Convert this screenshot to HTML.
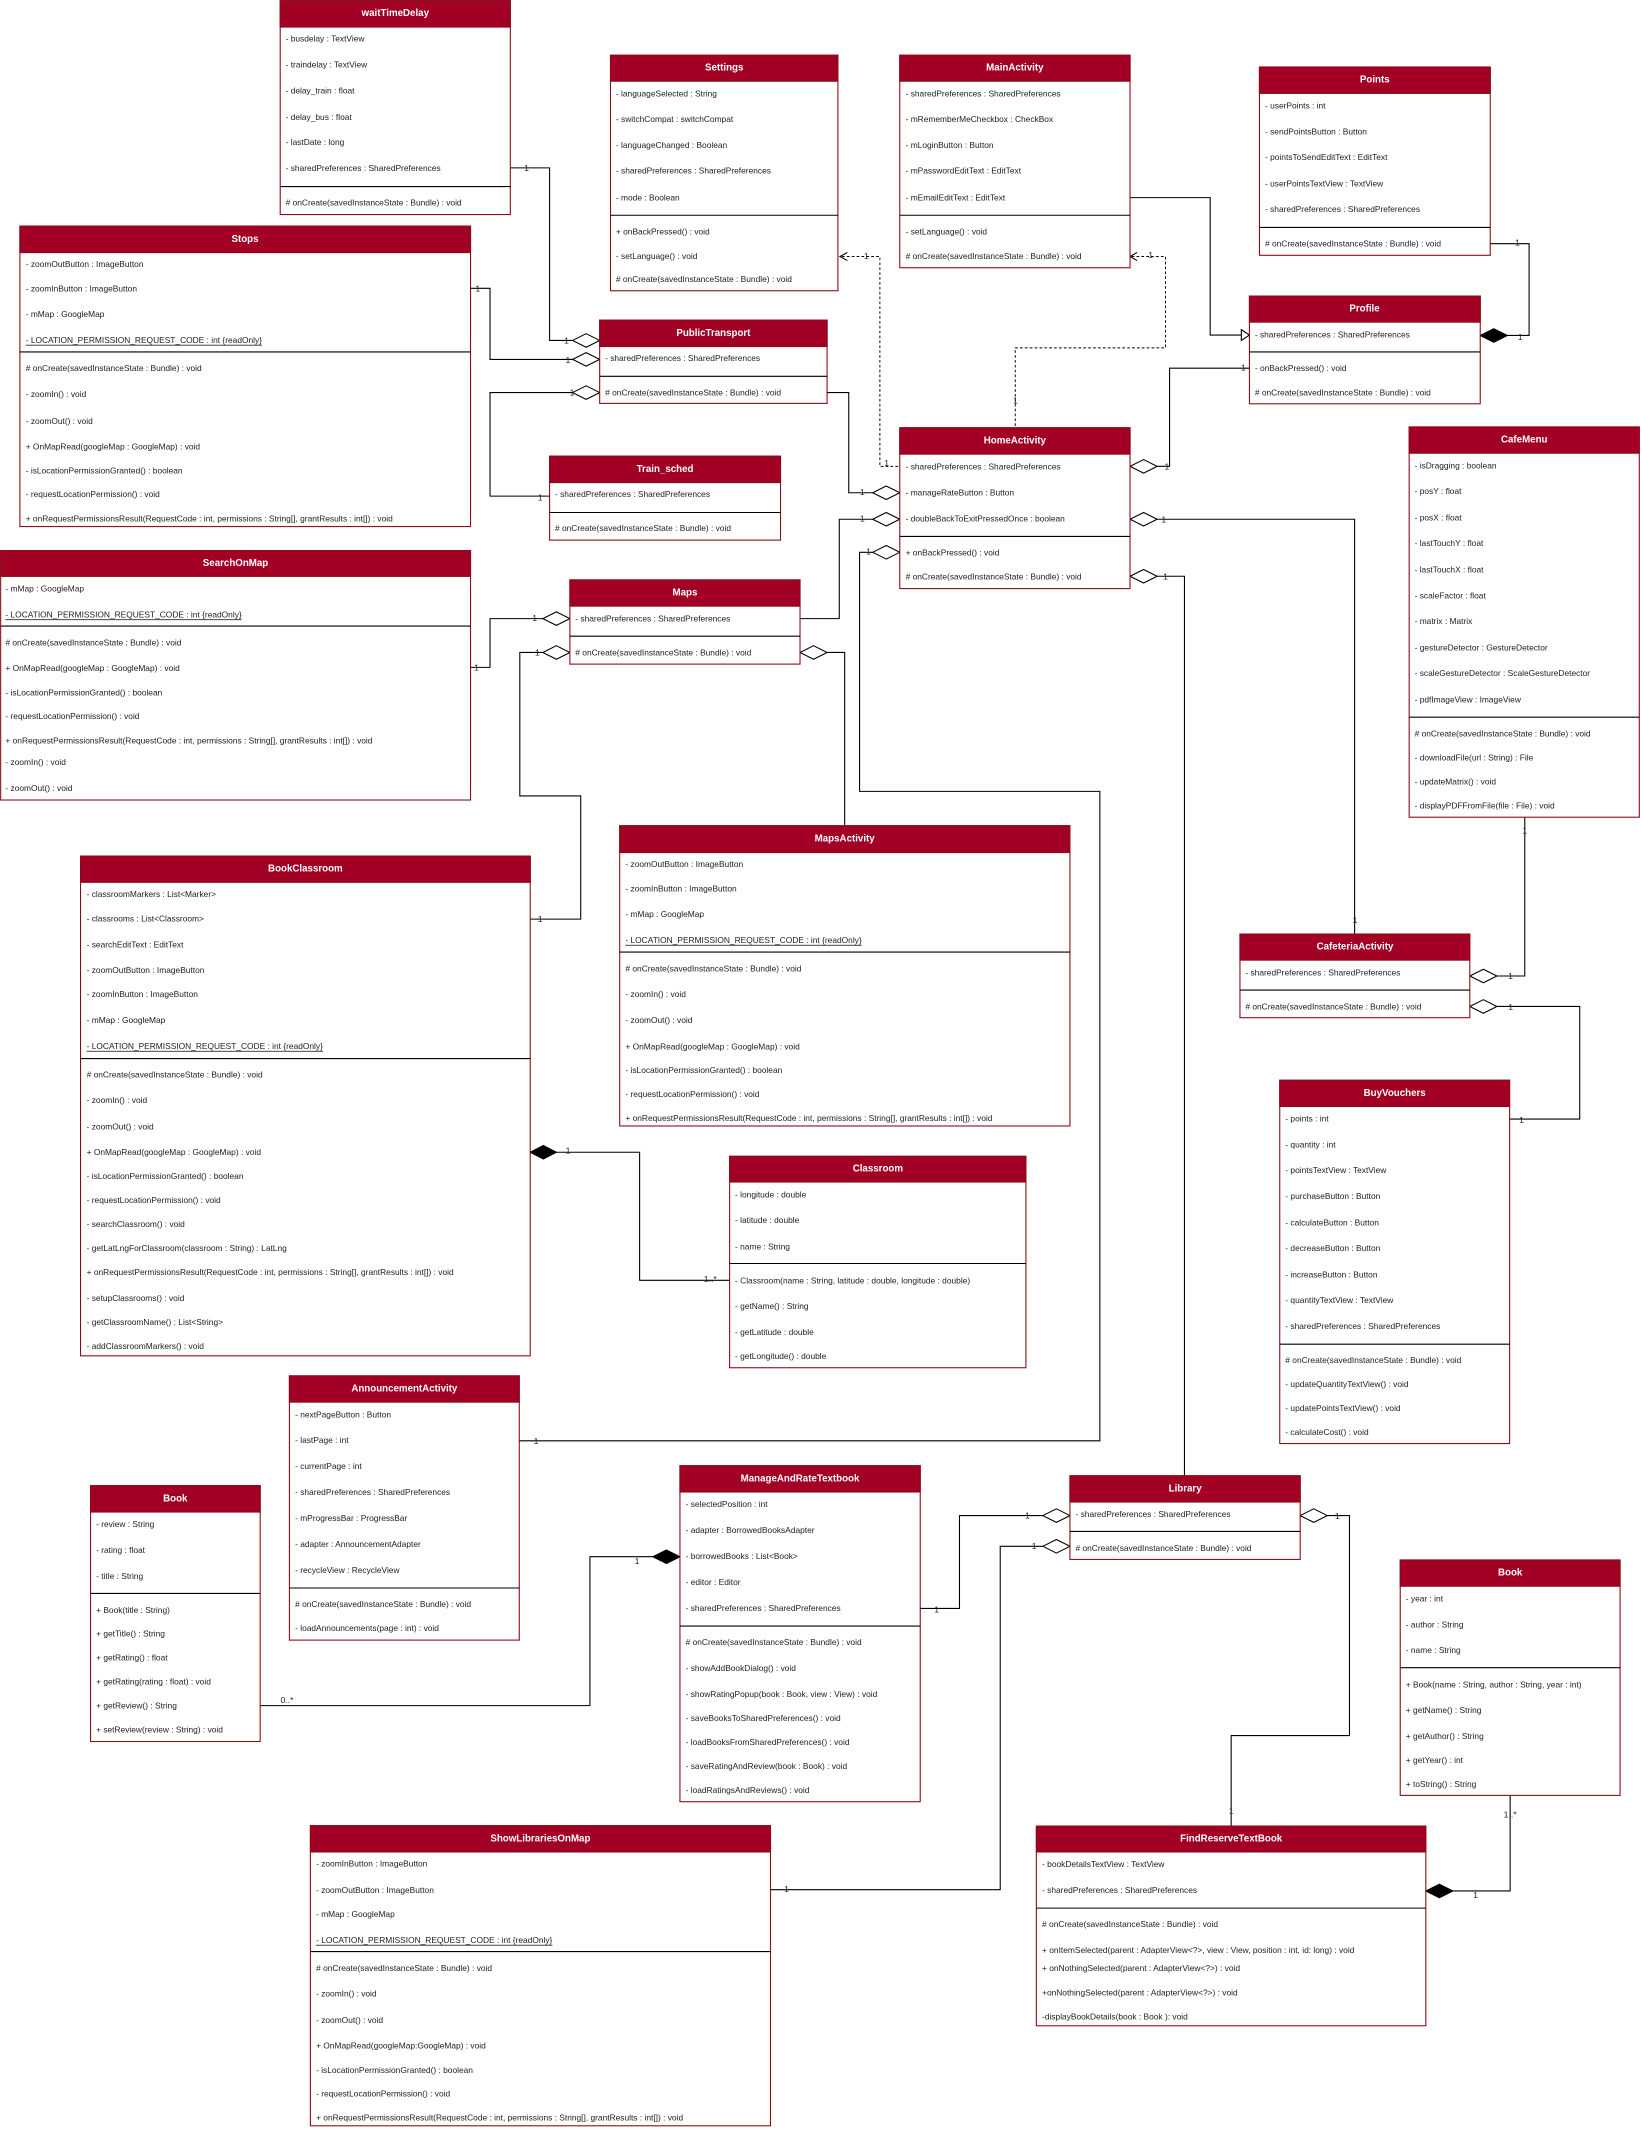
<!DOCTYPE html>
<html><head><meta charset="utf-8"><style>
html,body{margin:0;padding:0;background:#fff;}
svg{display:block}
.b{fill:#fff;stroke:#8a0a18;stroke-width:0.8}
.h{fill:#a20025;stroke:#8a0a18;stroke-width:0.8}
.d{stroke:#000;stroke-width:0.8}
.t{font-family:"Liberation Sans",sans-serif;font-weight:bold;font-size:7.2px;fill:#fff;text-anchor:middle;dominant-baseline:central}
.r{font-family:"Liberation Sans",sans-serif;font-size:6.2px;fill:#222;dominant-baseline:central}
.l{font-family:"Liberation Sans",sans-serif;font-size:6.4px;fill:#222;dominant-baseline:central;text-anchor:middle}
.c{fill:none;stroke:#000;stroke-width:0.8}
.k{fill:none;stroke:#000;stroke-width:0.7;stroke-dasharray:2,1.6}
.o{fill:#fff;stroke:#000;stroke-width:0.8}
.f{fill:#000;stroke:#000;stroke-width:0.8}
</style></head><body>
<svg width="1642" height="2130" viewBox="0 0 1213 1573.5" xmlns="http://www.w3.org/2000/svg">
<rect width="1213" height="1573.5" fill="#fff"/>

<!-- connectors -->
<polyline class="c" points="377,124 406,124 406,251.5 423,251.5"/>
<polyline class="c" points="347.6,213 362,213 362,265.5 423,265.5"/>
<polyline class="c" points="423,290 362,290 362,366.5 406,366.5"/>
<polyline class="c" points="347.6,493 362,493 362,457 401,457"/>
<polyline class="c" points="401,482 384,482 384,588 429,588 429,679 391.7,679"/>
<polyline class="c" points="611,482 624,482 624,610"/>
<polyline class="c" points="591,457 620,457 620,383.6 644.7,383.6"/>
<polyline class="c" points="611,290 627,290 627,364 644.7,364"/>
<polyline class="c" points="644.7,408 635,408 635,584.6 812.5,584.6 812.5,1064.4 383.6,1064.4"/>
<polyline class="c" points="834.8,146 894,146 894,247.5 917,247.5"/>
<polygon class="o" points="917,243.5 923,247.5 917,251.5"/>
<polyline class="k" points="622,189.5 650,189.5 650,344.5 664.7,344.5"/>
<polyline class="c" points="626,186.5 620.5,189.5 626,192.5"/>
<polyline class="k" points="836,189.5 861,189.5 861,257 750,257 750,316"/>
<polyline class="c" points="840,186.5 834.8,189.5 840,192.5"/>
<polyline class="c" points="855,344.5 864,344.5 864,272 923,272"/>
<polyline class="c" points="1100.9,180 1129.6,180 1129.6,247.8 1113,247.8"/>
<polyline class="c" points="855,383.6 1000.7,383.6 1000.7,690"/>
<polyline class="c" points="855,425.7 875,425.7 875,1090.2"/>
<polyline class="c" points="1126.4,603.7 1126.4,721 1105.8,721"/>
<polyline class="c" points="1105.8,743.5 1167,743.5 1167,826.7 1115.2,826.7"/>
<polyline class="c" points="411,851.2 472.5,851.2 472.5,945.8 539,945.8"/>
<polyline class="c" points="192.2,1260 435.8,1260 435.8,1150 482.3,1150"/>
<polyline class="c" points="569.2,1396 738.9,1396 738.9,1142.3 770.4,1142.3"/>
<polyline class="c" points="679.8,1188.2 708.8,1188.2 708.8,1119.6 770.4,1119.6"/>
<polyline class="c" points="980.5,1119.6 996.9,1119.6 996.9,1282.1 909.5,1282.1 909.5,1349"/>
<polyline class="c" points="1073.3,1396.9 1115.6,1396.9 1115.6,1326.3"/>

<!-- diamonds hollow -->
<polygon class="o" points="423,251.5 433,246.5 443,251.5 433,256.5"/>
<polygon class="o" points="423,265.5 433,260.5 443,265.5 433,270.5"/>
<polygon class="o" points="423,290 433,285 443,290 433,295"/>
<polygon class="o" points="401,457 411,452 421,457 411,462"/>
<polygon class="o" points="401,482 411,477 421,482 411,487"/>
<polygon class="o" points="591,482 601,477 611,482 601,487"/>
<polygon class="o" points="644.7,364 654.7,359 664.7,364 654.7,369"/>
<polygon class="o" points="644.7,383.6 654.7,378.6 664.7,383.6 654.7,388.6"/>
<polygon class="o" points="644.7,408 654.7,403 664.7,408 654.7,413"/>
<polygon class="o" points="834.8,344.5 844.8,339.5 854.8,344.5 844.8,349.5"/>
<polygon class="o" points="834.8,383.6 844.8,378.6 854.8,383.6 844.8,388.6"/>
<polygon class="o" points="834.8,425.7 844.8,420.7 854.8,425.7 844.8,430.7"/>
<polygon class="o" points="1085.8,721 1095.8,716 1105.8,721 1095.8,726"/>
<polygon class="o" points="1085.8,743.5 1095.8,738.5 1105.8,743.5 1095.8,748.5"/>
<polygon class="o" points="770.4,1119.6 780.4,1114.6 790.4,1119.6 780.4,1124.6"/>
<polygon class="o" points="770.4,1142.3 780.4,1137.3 790.4,1142.3 780.4,1147.3"/>
<polygon class="o" points="960.5,1119.6 970.5,1114.6 980.5,1119.6 970.5,1124.6"/>
<!-- filled -->
<polygon class="f" points="1093.5,247.8 1103.5,242.8 1113.5,247.8 1103.5,252.8"/>
<polygon class="f" points="391.7,851.2 401.4,846.2 411,851.2 401.4,856.2"/>
<polygon class="f" points="482.3,1150 492.3,1145 502.3,1150 492.3,1155"/>
<polygon class="f" points="1053.3,1396.9 1063.3,1391.9 1073.3,1396.9 1063.3,1401.9"/>

<!-- multiplicity labels -->
<g class="l">
<text x="389" y="124">1</text><text x="418.5" y="251.5">1</text>
<text x="353" y="213">1</text><text x="419.5" y="266">1</text>
<text x="422.6" y="290">1</text><text x="399" y="367.5">1</text>
<text x="352" y="493">1</text><text x="395" y="456.5">1</text>
<text x="397" y="482">1</text><text x="399" y="679">1</text>
<text x="637" y="383">1</text><text x="637" y="363.5">1</text>
<text x="641.6" y="407.5">1</text><text x="396" y="1064.4">1</text>
<text x="640" y="189">1</text><text x="655" y="342">1</text>
<text x="850" y="188.5">1</text><text x="750" y="295.7">1</text>
<text x="862" y="344.5">1</text><text x="918.5" y="271.5">1</text>
<text x="1121" y="179">1</text><text x="1123" y="249">1</text>
<text x="859.7" y="383.6">1</text><text x="1001" y="679.6">1</text>
<text x="861" y="425.7">1</text>
<text x="1126.4" y="613.7">1</text><text x="1115.9" y="721">1</text>
<text x="1116" y="744">1</text><text x="1124" y="827.5">1</text>
<text x="419.6" y="850">1</text><text x="524.7" y="945">1..*</text>
<text x="212" y="1256">0..*</text><text x="470.6" y="1153">1</text>
<text x="581" y="1395.5">1</text><text x="764" y="1142">1</text>
<text x="691.9" y="1189">1</text><text x="759" y="1119.6">1</text>
<text x="987.9" y="1120">1</text><text x="909.5" y="1337.7">1</text>
<text x="1090" y="1400">1</text><text x="1115.6" y="1340.3">1..*</text>
</g>

<!-- waitTimeDelay -->
<rect class="b" x="207" y="0.5" width="170" height="158"/><rect class="h" x="207" y="0.5" width="170" height="19.5"/>
<text class="t" x="292" y="10">waitTimeDelay</text><line class="d" x1="207" y1="137.8" x2="377" y2="137.8"/>
<g class="r"><text x="211" y="28.4">- busdelay : TextView</text><text x="211" y="47.8">- traindelay : TextView</text><text x="211" y="66.9">- delay_train : float</text><text x="211" y="86.3">- delay_bus : float</text><text x="211" y="105">- lastDate : long</text><text x="211" y="124">- sharedPreferences : SharedPreferences</text><text x="211" y="149.5"># onCreate(savedInstanceState : Bundle) : void</text></g>

<!-- Settings -->
<rect class="b" x="451" y="40.8" width="168" height="174"/><rect class="h" x="451" y="40.8" width="168" height="19.2"/>
<text class="t" x="535" y="50.4">Settings</text><line class="d" x1="451" y1="159" x2="619" y2="159"/>
<g class="r"><text x="455" y="69">- languageSelected : String</text><text x="455" y="88">- switchCompat : switchCompat</text><text x="455" y="107">- languageChanged : Boolean</text><text x="455" y="126">- sharedPreferences : SharedPreferences</text><text x="455" y="146">- mode : Boolean</text><text x="455" y="171">+ onBackPressed() : void</text><text x="455" y="189">- setLanguage() : void</text><text x="455" y="206"># onCreate(savedInstanceState : Bundle) : void</text></g>

<!-- MainActivity -->
<rect class="b" x="664.7" y="40.8" width="170.1" height="157"/><rect class="h" x="664.7" y="40.8" width="170.1" height="19.2"/>
<text class="t" x="749.7" y="50.4">MainActivity</text><line class="d" x1="664.7" y1="159" x2="834.8" y2="159"/>
<g class="r"><text x="669" y="69">- sharedPreferences : SharedPreferences</text><text x="669" y="88">- mRememberMeCheckbox : CheckBox</text><text x="669" y="107">- mLoginButton : Button</text><text x="669" y="126">- mPasswordEditText : EditText</text><text x="669" y="146">- mEmailEditText : EditText</text><text x="669" y="171">- setLanguage() : void</text><text x="669" y="189"># onCreate(savedInstanceState : Bundle) : void</text></g>

<!-- Points -->
<rect class="b" x="930.4" y="49.5" width="170.5" height="139.1"/><rect class="h" x="930.4" y="49.5" width="170.5" height="19.5"/>
<text class="t" x="1015.6" y="59.2">Points</text><line class="d" x1="930.4" y1="168" x2="1100.9" y2="168"/>
<g class="r"><text x="934.5" y="78">- userPoints : int</text><text x="934.5" y="97">- sendPointsButton : Button</text><text x="934.5" y="116">- pointsToSendEditText : EditText</text><text x="934.5" y="135.5">- userPointsTextView : TextView</text><text x="934.5" y="154.5">- sharedPreferences : SharedPreferences</text><text x="934.5" y="180"># onCreate(savedInstanceState : Bundle) : void</text></g>

<!-- Stops -->
<rect class="b" x="14.7" y="167" width="332.9" height="222"/><rect class="h" x="14.7" y="167" width="332.9" height="19.6"/>
<text class="t" x="181" y="176.8">Stops</text><line class="d" x1="14.7" y1="260" x2="347.6" y2="260"/>
<g class="r"><text x="19" y="195">- zoomOutButton : ImageButton</text><text x="19" y="213">- zoomInButton : ImageButton</text><text x="19" y="232">- mMap : GoogleMap</text><text x="19" y="251" text-decoration="underline">- LOCATION_PERMISSION_REQUEST_CODE : int {readOnly}</text><text x="19" y="272"># onCreate(savedInstanceState : Bundle) : void</text><text x="19" y="291">- zoomIn() : void</text><text x="19" y="311">- zoomOut() : void</text><text x="19" y="330">+ OnMapRead(googleMap : GoogleMap) : void</text><text x="19" y="347.5">- isLocationPermissionGranted() : boolean</text><text x="19" y="365">- requestLocationPermission() : void</text><text x="19" y="383">+ onRequestPermissionsResult(RequestCode : int, permissions : String[], grantResults : int[]) : void</text></g>

<!-- PublicTransport -->
<rect class="b" x="443" y="236.5" width="168" height="61.5"/><rect class="h" x="443" y="236.5" width="168" height="19.5"/>
<text class="t" x="527" y="246.2">PublicTransport</text><line class="d" x1="443" y1="278" x2="611" y2="278"/>
<g class="r"><text x="447" y="264.5">- sharedPreferences : SharedPreferences</text><text x="447" y="290"># onCreate(savedInstanceState : Bundle) : void</text></g>

<!-- Profile -->
<rect class="b" x="923" y="218.7" width="170.5" height="79.6"/><rect class="h" x="923" y="218.7" width="170.5" height="19.3"/>
<text class="t" x="1008" y="228.3">Profile</text><line class="d" x1="923" y1="260" x2="1093.5" y2="260"/>
<g class="r"><text x="927" y="247">- sharedPreferences : SharedPreferences</text><text x="927" y="272">- onBackPressed() : void</text><text x="927" y="290"># onCreate(savedInstanceState : Bundle) : void</text></g>

<!-- Train_sched -->
<rect class="b" x="406" y="337" width="170.6" height="62"/><rect class="h" x="406" y="337" width="170.6" height="19.5"/>
<text class="t" x="491.3" y="346.7">Train_sched</text><line class="d" x1="406" y1="378.6" x2="576.6" y2="378.6"/>
<g class="r"><text x="410" y="365">- sharedPreferences : SharedPreferences</text><text x="410" y="390"># onCreate(savedInstanceState : Bundle) : void</text></g>

<!-- HomeActivity -->
<rect class="b" x="664.7" y="316" width="170.1" height="118.8"/><rect class="h" x="664.7" y="316" width="170.1" height="19.5"/>
<text class="t" x="749.7" y="325.7">HomeActivity</text><line class="d" x1="664.7" y1="396.3" x2="834.8" y2="396.3"/>
<g class="r"><text x="669" y="344.5">- sharedPreferences : SharedPreferences</text><text x="669" y="364">- manageRateButton : Button</text><text x="669" y="383">- doubleBackToExitPressedOnce : boolean</text><text x="669" y="408">+ onBackPressed() : void</text><text x="669" y="425.7"># onCreate(savedInstanceState : Bundle) : void</text></g>

<!-- CafeMenu -->
<rect class="b" x="1041" y="315.4" width="170" height="288.3"/><rect class="h" x="1041" y="315.4" width="170" height="19.4"/>
<text class="t" x="1126" y="325.1">CafeMenu</text><line class="d" x1="1041" y1="529.8" x2="1211" y2="529.8"/>
<g class="r"><text x="1045" y="343.8">- isDragging : boolean</text><text x="1045" y="362.9">- posY : float</text><text x="1045" y="382.3">- posX : float</text><text x="1045" y="401.3">- lastTouchY : float</text><text x="1045" y="420.7">- lastTouchX : float</text><text x="1045" y="439.8">- scaleFactor : float</text><text x="1045" y="458.9">- matrix : Matrix</text><text x="1045" y="478.3">- gestureDetector : GestureDetector</text><text x="1045" y="497.3">- scaleGestureDetector : ScaleGestureDetector</text><text x="1045" y="516.7">- pdfImageView : ImageView</text><text x="1045" y="541.8"># onCreate(savedInstanceState : Bundle) : void</text><text x="1045" y="559.5">- downloadFile(url : String) : File</text><text x="1045" y="577.2">- updateMatrix() : void</text><text x="1045" y="595">- displayPDFFromFile(file : File) : void</text></g>

<!-- SearchOnMap -->
<rect class="b" x="0.5" y="406.7" width="347.1" height="184.3"/><rect class="h" x="0.5" y="406.7" width="347.1" height="19.1"/>
<text class="t" x="174" y="416.2">SearchOnMap</text><line class="d" x1="0.5" y1="462.5" x2="347.6" y2="462.5"/>
<g class="r"><text x="4" y="434.8">- mMap : GoogleMap</text><text x="4" y="453.8" text-decoration="underline">- LOCATION_PERMISSION_REQUEST_CODE : int {readOnly}</text><text x="4" y="474.6"># onCreate(savedInstanceState : Bundle) : void</text><text x="4" y="493.6">+ OnMapRead(googleMap : GoogleMap) : void</text><text x="4" y="511.4">- isLocationPermissionGranted() : boolean</text><text x="4" y="529">- requestLocationPermission() : void</text><text x="4" y="547">+ onRequestPermissionsResult(RequestCode : int, permissions : String[], grantResults : int[]) : void</text><text x="4" y="563">- zoomIn() : void</text><text x="4" y="582">- zoomOut() : void</text></g>

<!-- Maps -->
<rect class="b" x="421" y="428.4" width="170" height="62.2"/><rect class="h" x="421" y="428.4" width="170" height="19.4"/>
<text class="t" x="506" y="438.1">Maps</text><line class="d" x1="421" y1="470" x2="591" y2="470"/>
<g class="r"><text x="425" y="456.9">- sharedPreferences : SharedPreferences</text><text x="425" y="482"># onCreate(savedInstanceState : Bundle) : void</text></g>

<!-- MapsActivity -->
<rect class="b" x="457.8" y="610" width="332.6" height="221.8"/><rect class="h" x="457.8" y="610" width="332.6" height="19.8"/>
<text class="t" x="624" y="619.9">MapsActivity</text><line class="d" x1="457.8" y1="703.3" x2="790.4" y2="703.3"/>
<g class="r"><text x="462" y="638.4">- zoomOutButton : ImageButton</text><text x="462" y="656.2">- zoomInButton : ImageButton</text><text x="462" y="675.2">- mMap : GoogleMap</text><text x="462" y="694.3" text-decoration="underline">- LOCATION_PERMISSION_REQUEST_CODE : int {readOnly}</text><text x="462" y="715.4"># onCreate(savedInstanceState : Bundle) : void</text><text x="462" y="734.4">- zoomIn() : void</text><text x="462" y="753.5">- zoomOut() : void</text><text x="462" y="772.9">+ OnMapRead(googleMap : GoogleMap) : void</text><text x="462" y="790.6">- isLocationPermissionGranted() : boolean</text><text x="462" y="808.3">- requestLocationPermission() : void</text><text x="462" y="826">+ onRequestPermissionsResult(RequestCode : int, permissions : String[], grantResults : int[]) : void</text></g>

<!-- BookClassroom -->
<rect class="b" x="59.5" y="632.4" width="332.2" height="369.2"/><rect class="h" x="59.5" y="632.4" width="332.2" height="19.4"/>
<text class="t" x="225.6" y="642.1">BookClassroom</text><line class="d" x1="59.5" y1="782" x2="391.7" y2="782"/>
<g class="r"><text x="64" y="660.5">- classroomMarkers : List&lt;Marker&gt;</text><text x="64" y="678.6">- classrooms : List&lt;Classroom&gt;</text><text x="64" y="697.6">- searchEditText : EditText</text><text x="64" y="716.7">- zoomOutButton : ImageButton</text><text x="64" y="734.4">- zoomInButton : ImageButton</text><text x="64" y="753.5">- mMap : GoogleMap</text><text x="64" y="772.6" text-decoration="underline">- LOCATION_PERMISSION_REQUEST_CODE : int {readOnly}</text><text x="64" y="793.6"># onCreate(savedInstanceState : Bundle) : void</text><text x="64" y="812.7">- zoomIn() : void</text><text x="64" y="832.1">- zoomOut() : void</text><text x="64" y="851.2">+ OnMapRead(googleMap : GoogleMap) : void</text><text x="64" y="868.9">- isLocationPermissionGranted() : boolean</text><text x="64" y="886.6">- requestLocationPermission() : void</text><text x="64" y="904.3">- searchClassroom() : void</text><text x="64" y="922">- getLatLngForClassroom(classroom : String) : LatLng</text><text x="64" y="939.8">+ onRequestPermissionsResult(RequestCode : int, permissions : String[], grantResults : int[]) : void</text><text x="64" y="958.8">- setupClassrooms() : void</text><text x="64" y="976.6">- getClassroomName() : List&lt;String&gt;</text><text x="64" y="994.3">- addClassroomMarkers() : void</text></g>

<!-- CafeteriaActivity -->
<rect class="b" x="916" y="690" width="169.8" height="61.8"/><rect class="h" x="916" y="690" width="169.8" height="19.3"/>
<text class="t" x="1001" y="699.6">CafeteriaActivity</text><line class="d" x1="916" y1="731.4" x2="1085.8" y2="731.4"/>
<g class="r"><text x="920" y="718.4">- sharedPreferences : SharedPreferences</text><text x="920" y="743.5"># onCreate(savedInstanceState : Bundle) : void</text></g>

<!-- BuyVouchers -->
<rect class="b" x="945.4" y="798" width="169.8" height="268.4"/><rect class="h" x="945.4" y="798" width="169.8" height="19.4"/>
<text class="t" x="1030.3" y="807.7">BuyVouchers</text><line class="d" x1="945.4" y1="993" x2="1115.2" y2="993"/>
<g class="r"><text x="949.5" y="826.1">- points : int</text><text x="949.5" y="845.5">- quantity : int</text><text x="949.5" y="864.5">- pointsTextView : TextView</text><text x="949.5" y="883.6">- purchaseButton : Button</text><text x="949.5" y="903">- calculateButton : Button</text><text x="949.5" y="922">- decreaseButton : Button</text><text x="949.5" y="941.5">- increaseButton : Button</text><text x="949.5" y="960.5">- quantityTextView : TextView</text><text x="949.5" y="979.6">- sharedPreferences : SharedPreferences</text><text x="949.5" y="1004.7"># onCreate(savedInstanceState : Bundle) : void</text><text x="949.5" y="1022.4">- updateQuantityTextView() : void</text><text x="949.5" y="1040.1">- updatePointsTextView() : void</text><text x="949.5" y="1058">- calculateCost() : void</text></g>

<!-- Classroom -->
<rect class="b" x="539" y="854.2" width="218.9" height="156.2"/><rect class="h" x="539" y="854.2" width="218.9" height="19"/>
<text class="t" x="648.5" y="863.7">Classroom</text><line class="d" x1="539" y1="933.4" x2="757.9" y2="933.4"/>
<g class="r"><text x="543" y="882.3">- longitude : double</text><text x="543" y="901.3">- latitude : double</text><text x="543" y="920.7">- name : String</text><text x="543" y="945.8">- Classroom(name : String, latitude : double, longitude : double)</text><text x="543" y="964.9">- getName() : String</text><text x="543" y="984">- getLatitude : double</text><text x="543" y="1001.7">- getLongitude() : double</text></g>

<!-- AnnouncementActivity -->
<rect class="b" x="213.8" y="1016.4" width="169.8" height="195.2"/><rect class="h" x="213.8" y="1016.4" width="169.8" height="19.4"/>
<text class="t" x="298.7" y="1026.1">AnnouncementActivity</text><line class="d" x1="213.8" y1="1173.1" x2="383.6" y2="1173.1"/>
<g class="r"><text x="218" y="1044.8">- nextPageButton : Button</text><text x="218" y="1063.7">- lastPage : int</text><text x="218" y="1083.1">- currentPage : int</text><text x="218" y="1102.2">- sharedPreferences : SharedPreferences</text><text x="218" y="1121.3">- mProgressBar : ProgressBar</text><text x="218" y="1140.7">- adapter : AnnouncementAdapter</text><text x="218" y="1159.7">- recycleView : RecycleView</text><text x="218" y="1184.8"># onCreate(savedInstanceState : Bundle) : void</text><text x="218" y="1202.5">- loadAnnouncements(page : int) : void</text></g>

<!-- Book left -->
<rect class="b" x="66.9" y="1097.5" width="125.3" height="189"/><rect class="h" x="66.9" y="1097.5" width="125.3" height="19.5"/>
<text class="t" x="129.5" y="1107.2">Book</text><line class="d" x1="66.9" y1="1177.1" x2="192.2" y2="1177.1"/>
<g class="r"><text x="71" y="1126">- review : String</text><text x="71" y="1145">- rating : float</text><text x="71" y="1164.4">- title : String</text><text x="71" y="1189.2">+ Book(title : String)</text><text x="71" y="1206.9">+ getTitle() : String</text><text x="71" y="1224.6">+ getRating() : float</text><text x="71" y="1242.3">+ getRating(rating : float) : void</text><text x="71" y="1260">+ getReview() : String</text><text x="71" y="1277.8">+ setReview(review : String) : void</text></g>

<!-- ManageAndRateTextbook -->
<rect class="b" x="502.3" y="1082.8" width="177.5" height="248.2"/><rect class="h" x="502.3" y="1082.8" width="177.5" height="19.4"/>
<text class="t" x="591" y="1092.5">ManageAndRateTextbook</text><line class="d" x1="502.3" y1="1201.2" x2="679.8" y2="1201.2"/>
<g class="r"><text x="506.5" y="1110.9">- selectedPosition : int</text><text x="506.5" y="1130.3">- adapter : BorrowedBooksAdapter</text><text x="506.5" y="1149.4">- borrowedBooks : List&lt;Book&gt;</text><text x="506.5" y="1168.8">- editor : Editor</text><text x="506.5" y="1187.8">- sharedPreferences : SharedPreferences</text><text x="506.5" y="1213"># onCreate(savedInstanceState : Bundle) : void</text><text x="506.5" y="1232.3">- showAddBookDialog() : void</text><text x="506.5" y="1251.4">- showRatingPopup(book : Book, view : View) : void</text><text x="506.5" y="1269.1">- saveBooksToSharedPreferences() : void</text><text x="506.5" y="1286.8">- loadBooksFromSharedPreferences() : void</text><text x="506.5" y="1304.6">- saveRatingAndReview(book : Book) : void</text><text x="506.5" y="1322.3">- loadRatingsAndReviews() : void</text></g>

<!-- Library -->
<rect class="b" x="790.4" y="1090.2" width="170.1" height="61.8"/><rect class="h" x="790.4" y="1090.2" width="170.1" height="19.4"/>
<text class="t" x="875.5" y="1099.9">Library</text><line class="d" x1="790.4" y1="1131.3" x2="960.5" y2="1131.3"/>
<g class="r"><text x="794.5" y="1118.3">- sharedPreferences : SharedPreferences</text><text x="794.5" y="1143.7"># onCreate(savedInstanceState : Bundle) : void</text></g>

<!-- Book right -->
<rect class="b" x="1034.4" y="1152.4" width="162.4" height="173.9"/><rect class="h" x="1034.4" y="1152.4" width="162.4" height="19.4"/>
<text class="t" x="1115.6" y="1162.1">Book</text><line class="d" x1="1034.4" y1="1232" x2="1196.8" y2="1232"/>
<g class="r"><text x="1038.5" y="1180.8">- year : int</text><text x="1038.5" y="1199.9">- author : String</text><text x="1038.5" y="1219">- name : String</text><text x="1038.5" y="1244.4">+ Book(name : String, author : String, year : int)</text><text x="1038.5" y="1263.4">+ getName() : String</text><text x="1038.5" y="1282.5">+ getAuthor() : String</text><text x="1038.5" y="1300.2">+ getYear() : int</text><text x="1038.5" y="1318">+ toString() : String</text></g>

<!-- ShowLibrariesOnMap -->
<rect class="b" x="229.3" y="1348.7" width="339.9" height="221.7"/><rect class="h" x="229.3" y="1348.7" width="339.9" height="19.4"/>
<text class="t" x="399.2" y="1358.4">ShowLibrariesOnMap</text><line class="d" x1="229.3" y1="1441.7" x2="569.2" y2="1441.7"/>
<g class="r"><text x="233.5" y="1376.8">- zoomInButton : ImageButton</text><text x="233.5" y="1396.2">- zoomOutButton : ImageButton</text><text x="233.5" y="1414">- mMap : GoogleMap</text><text x="233.5" y="1433" text-decoration="underline">- LOCATION_PERMISSION_REQUEST_CODE : int {readOnly}</text><text x="233.5" y="1453.7"># onCreate(savedInstanceState : Bundle) : void</text><text x="233.5" y="1472.8">- zoomIn() : void</text><text x="233.5" y="1492.2">- zoomOut() : void</text><text x="233.5" y="1511.2">+ OnMapRead(googleMap:GoogleMap) : void</text><text x="233.5" y="1529">- isLocationPermissionGranted() : boolean</text><text x="233.5" y="1546.7">- requestLocationPermission() : void</text><text x="233.5" y="1564.4">+ onRequestPermissionsResult(RequestCode : int, permissions : String[], grantResults : int[]) : void</text></g>

<!-- FindReserveTextBook -->
<rect class="b" x="765.6" y="1349" width="287.7" height="147.5"/><rect class="h" x="765.6" y="1349" width="287.7" height="19.1"/>
<text class="t" x="909.5" y="1358.5">FindReserveTextBook</text><line class="d" x1="765.6" y1="1409.6" x2="1053.3" y2="1409.6"/>
<g class="r"><text x="769.8" y="1377.1">- bookDetailsTextView : TextView</text><text x="769.8" y="1396.2">- sharedPreferences : SharedPreferences</text><text x="769.8" y="1421.3"># onCreate(savedInstanceState : Bundle) : void</text><text x="769.8" y="1440.7">+ onItemSelected(parent : AdapterView&lt;?&gt;, view : View, position : int, id: long) : void</text><text x="769.8" y="1454">+ onNothingSelected(parent : AdapterView&lt;?&gt;) : void</text><text x="769.8" y="1471.8">+onNothingSelected(parent : AdapterView&lt;?&gt;) : void</text><text x="769.8" y="1489.5">-displayBookDetails(book : Book ): void</text></g>
</svg>
</body></html>
